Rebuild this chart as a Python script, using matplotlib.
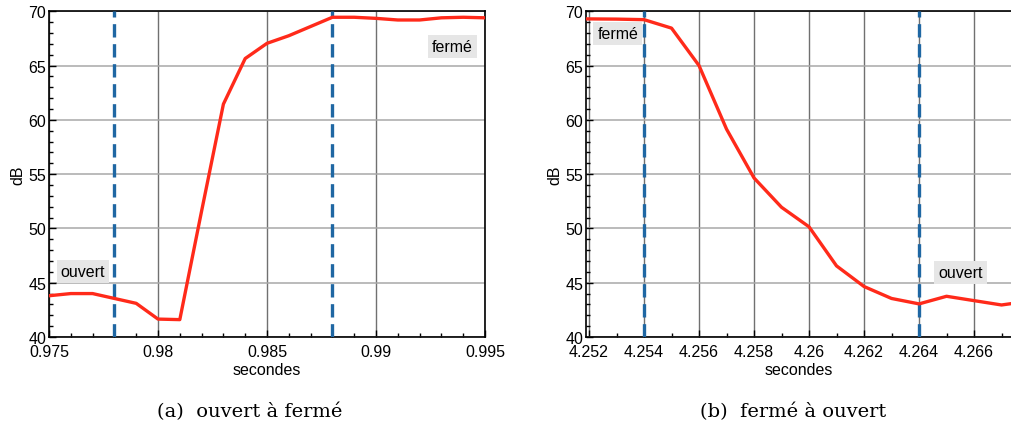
import matplotlib
matplotlib.use("Agg")
import matplotlib.pyplot as plt
from matplotlib.ticker import MultipleLocator

plt.rcParams['font.family'] = ['Liberation Sans', 'DejaVu Sans']

# Panel (a): ouvert -> fermé
t_a = [0.975, 0.976, 0.977, 0.978, 0.979, 0.980, 0.981, 0.982, 0.983, 0.984,
       0.985, 0.986, 0.987, 0.988, 0.989, 0.990, 0.991, 0.992, 0.993, 0.994, 0.995]
db_a = [43.8, 44.0, 44.0, 43.55, 43.1, 41.65, 41.6, 51.6, 61.45, 65.65,
        67.05, 67.75, 68.6, 69.45, 69.45, 69.35, 69.2, 69.2, 69.4, 69.45, 69.4]
marks_a = [0.978, 0.988]

# Panel (b): fermé -> ouvert
t_b = [4.251, 4.252, 4.253, 4.254, 4.255, 4.256, 4.257, 4.258, 4.259, 4.260,
       4.261, 4.262, 4.263, 4.264, 4.265, 4.266, 4.267, 4.268]
db_b = [69.3, 69.3, 69.28, 69.23, 68.45, 65.0, 59.15, 54.65, 51.95, 50.15,
        46.55, 44.65, 43.55, 43.05, 43.75, 43.35, 42.95, 43.3]
marks_b = [4.254, 4.264]

xticks_a = [0.975, 0.98, 0.985, 0.99, 0.995]
xticklabels_a = ['0.975', '0.98', '0.985', '0.99', '0.995']
xticks_b = [4.252, 4.254, 4.256, 4.258, 4.26, 4.262, 4.264, 4.266]
xticklabels_b = ['4.252', '4.254', '4.256', '4.258', '4.26', '4.262', '4.264', '4.266']
yticks = [40, 45, 50, 55, 60, 65, 70]

captions = ['(a)  ouvert à fermé', '(b)  fermé à ouvert']

W, H = 1011, 435
fig = plt.figure(figsize=(W / 100, H / 100), dpi=100)

ax_a = fig.add_axes([49 / W, (H - 338) / H, 436 / W, 325.7 / H])
ax_b = fig.add_axes([586 / W, (H - 338) / H, (W - 586) / W, 325.7 / H])

RED = '#ff2a1a'
BLUE = '#1f67a3'


def style(ax, xticks, xlabels, xminor):
    ax.set_ylim(40, 70)
    ax.set_yticks(yticks)
    ax.yaxis.set_minor_locator(MultipleLocator(1))
    ax.set_xticks(xticks)
    ax.set_xticklabels(xlabels)
    ax.xaxis.set_minor_locator(MultipleLocator(xminor))
    ax.tick_params(which='both', direction='in', top=False, right=False,
                   labelsize=11.5, width=1)
    ax.tick_params(axis='y', pad=2)
    ax.tick_params(axis='x', pad=5)
    ax.tick_params(which='major', length=5)
    ax.tick_params(which='minor', length=3)
    ax.grid(axis='y', which='major', color='#a8a8a8', linewidth=1.1)
    ax.grid(axis='x', which='major', color='#707070', linewidth=1.0)
    ax.set_axisbelow(True)
    for s in ax.spines.values():
        s.set_linewidth(1.2)
        s.set_color('black')
    ax.set_xlabel('secondes', fontsize=11.5, labelpad=2)
    ax.set_ylabel('dB', fontsize=11.5, labelpad=2)


box = dict(facecolor='#e6e6e6', edgecolor='none', boxstyle='square,pad=0.25')

# Panel a
style(ax_a, xticks_a, xticklabels_a, 0.001)
ax_a.set_xlim(0.975, 0.995)
for m in marks_a:
    ax_a.axvline(m, color=BLUE, linewidth=2.4, dashes=(4, 2), zorder=3)
ax_a.plot(t_a, db_a, color=RED, linewidth=2.4, zorder=4)
ax_a.text(0.97655, 46.05, 'ouvert', fontsize=11.5, ha='center', va='center', bbox=box, zorder=5)
ax_a.text(0.99351, 66.75, 'fermé', fontsize=11.5, ha='center', va='center', bbox=box, zorder=5)

# Panel b
style(ax_b, xticks_b, xticklabels_b, 0.001)
ax_b.set_xlim(4.25189, 4.25189 + (W - 586) / 27500)
ax_b.spines['right'].set_visible(False)
for m in marks_b:
    ax_b.axvline(m, color=BLUE, linewidth=2.4, dashes=(4, 2), zorder=3)
ax_b.plot(t_b, db_b, color=RED, linewidth=2.4, zorder=4)
ax_b.text(4.25305, 68.0, 'fermé', fontsize=11.5, ha='center', va='center', bbox=box, zorder=5)
ax_b.text(4.2655, 45.9, 'ouvert', fontsize=11.5, ha='center', va='center', bbox=box, zorder=5)

fig.text(250 / W, 1 - 412 / H, captions[0], fontsize=14, ha='center', va='center',
         family=['DejaVu Serif'])
fig.text(793 / W, 1 - 412 / H, captions[1], fontsize=14, ha='center', va='center',
         family=['DejaVu Serif'])

fig.savefig('out.png', dpi=100)
